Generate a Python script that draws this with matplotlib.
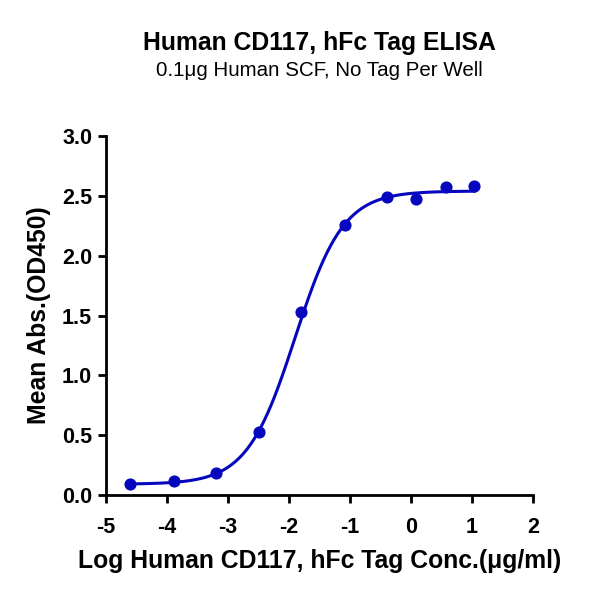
import numpy as np
import matplotlib
matplotlib.use('Agg')
import matplotlib.pyplot as plt

plt.rcParams['font.family'] = ['Liberation Sans', 'DejaVu Sans']
plt.rcParams['axes.unicode_minus'] = False

# measured points (log conc, mean OD450)
logConc = [-4.60, -3.88, -3.19, -2.49, -1.80, -1.09, -0.39, 0.09, 0.57, 1.04]
meanAbs = [0.09, 0.12, 0.18, 0.53, 1.53, 2.26, 2.49, 2.47, 2.57, 2.58]

# 4PL fit parameters
fitBottom = 0.09
fitTop = 2.54
fitLogEC50 = -1.90
fitHill = 1.10

xTicks = [-5, -4, -3, -2, -1, 0, 1, 2]
yTicks = [0.0, 0.5, 1.0, 1.5, 2.0, 2.5, 3.0]

blue = '#0606BE'

xFit = np.linspace(min(logConc), max(logConc), 300)
yFit = fitBottom + (fitTop - fitBottom) / (1 + 10 ** ((fitLogEC50 - xFit) * fitHill))

fig = plt.figure(figsize=(6, 6), dpi=100)
ax = fig.add_axes([106/600, 105/600, 427/600, 359/600])
ax.plot(xFit, yFit, color=blue, lw=2.2)
ax.scatter(logConc, meanAbs, color=blue, s=60, zorder=3)

ax.set_xlim(-5, 2)
ax.set_ylim(0, 3)
ax.set_xticks(xTicks)
ax.set_xticklabels([str(v) for v in xTicks])
ax.set_yticks(yTicks)
ax.set_yticklabels(['%.1f' % v for v in yTicks])
ax.spines['top'].set_visible(False)
ax.spines['right'].set_visible(False)
ax.spines['left'].set_linewidth(2)
ax.spines['bottom'].set_linewidth(2)
ax.tick_params(width=2, length=6, labelsize=15.5, pad=4)
ax.tick_params(axis='x', pad=10)
for lab in ax.get_xticklabels() + ax.get_yticklabels():
	lab.set_fontweight('bold')

ax.set_xlabel('Log Human CD117, hFc Tag Conc.(\u03bcg/ml)', fontsize=17.8, fontweight='bold', labelpad=8)
ax.set_ylabel('Mean Abs.(OD450)', fontsize=17.8, fontweight='bold', labelpad=8)

titleX = (106 + 533) / 2 / 600
fig.text(titleX, 1 - 43/600, 'Human CD117, hFc Tag ELISA', ha='center', va='center', fontsize=17.8, fontweight='bold')
fig.text(titleX, 1 - 70/600, '0.1\u03bcg Human SCF, No Tag Per Well', ha='center', va='center', fontsize=14.8)

plt.savefig('out.png', dpi=100)
